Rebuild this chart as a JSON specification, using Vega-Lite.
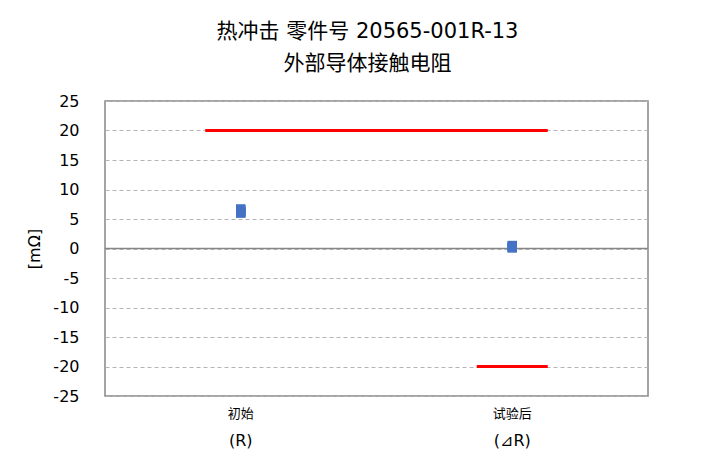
{
  "$schema": "https://vega.github.io/schema/vega-lite/v6.json",
  "width": 543,
  "height": 295,
  "autosize": {"type": "none"},
  "padding": {"left": 105, "top": 101, "right": 68, "bottom": 61},
  "background": "white",
  "config": {
    "view": {"stroke": "#868686", "strokeWidth": 1.5},
    "font": "DejaVu Sans, Noto Sans CJK SC"
  },
  "title": {
    "text": ["热冲击 零件号 20565-001R-13", "外部导体接触电阻"],
    "fontSize": 21,
    "font": "DejaVu Sans, Noto Sans CJK SC",
    "fontWeight": "normal",
    "color": "#000000",
    "lineHeight": 32,
    "offset": 19,
    "dx": -9
  },
  "datasets": {
    "pts": [
      {"cat": "初始", "v": 6.7},
      {"cat": "初始", "v": 6.5},
      {"cat": "初始", "v": 6.3},
      {"cat": "初始", "v": 6.1},
      {"cat": "初始", "v": 6.0},
      {"cat": "试验后", "v": 0.5},
      {"cat": "试验后", "v": 0.35},
      {"cat": "试验后", "v": 0.2},
      {"cat": "试验后", "v": 0.1}
    ],
    "limits": [
      {"series": "upper", "cat": "初始", "v": 20},
      {"series": "upper", "cat": "试验后", "v": 20},
      {"series": "lower", "cat": "试验后", "v": -20}
    ],
    "zero": [{"z": 0}]
  },
  "resolve": {"axis": {"x": "independent"}},
  "layer": [
    {
      "data": {"name": "zero"},
      "mark": {"type": "rule", "color": "#868686", "strokeWidth": 1.5},
      "encoding": {
        "y": {
          "field": "z",
          "type": "quantitative",
          "scale": {"domain": [-25, 25], "nice": false, "zero": false},
          "axis": {
            "title": "[mΩ]",
            "titleFontSize": 16,
            "titleFontWeight": "normal",
            "titleColor": "#000000",
            "titlePadding": 10,
            "values": [-25, -20, -15, -10, -5, 0, 5, 10, 15, 20, 25],
            "tickCount": 11,
            "labelExpr": "toString(datum.value)",
            "labelOverlap": false,
            "labelFontSize": 16,
            "labelColor": "#000000",
            "labelPadding": 26,
            "ticks": false,
            "tickSize": 0,
            "domain": false,
            "grid": true,
            "gridColor": "#B4B4B4",
            "gridDash": [4, 3],
            "gridWidth": 1
          }
        }
      }
    },
    {
      "data": {"name": "limits"},
      "transform": [{"filter": "datum.series == 'upper'"}],
      "mark": {"type": "line", "color": "#FF0000", "strokeWidth": 3},
      "encoding": {
        "x": {
          "field": "cat",
          "type": "nominal",
          "sort": ["初始", "试验后"],
          "scale": {"type": "band", "domain": ["初始", "试验后"], "paddingInner": 0, "paddingOuter": 0},
          "axis": {
            "orient": "bottom",
            "title": null,
            "ticks": false,
            "tickSize": 0,
            "domain": false,
            "grid": false,
            "labelAngle": 0,
            "labelFontSize": 13,
            "labelColor": "#000000",
            "labelPadding": 11,
            "labelBaseline": "top"
          }
        },
        "y": {"field": "v", "type": "quantitative"}
      }
    },
    {
      "data": {"name": "limits"},
      "mark": {"type": "tick", "color": "#FF0000", "size": 71, "thickness": 3, "orient": "horizontal", "opacity": 1},
      "encoding": {
        "x": {
          "field": "cat",
          "type": "nominal",
          "sort": ["初始", "试验后"],
          "axis": {
            "orient": "bottom",
            "title": null,
            "ticks": false,
            "tickSize": 0,
            "domain": false,
            "grid": false,
            "labelAngle": 0,
            "labelFontSize": 16,
            "labelColor": "#000000",
            "labelPadding": 36,
            "labelBaseline": "top",
            "labelExpr": "datum.value == '初始' ? '(R)' : '(⊿R)'"
          }
        },
        "y": {"field": "v", "type": "quantitative"}
      }
    },
    {
      "data": {"name": "pts"},
      "mark": {"type": "point", "shape": "square", "filled": true, "size": 90, "color": "#4472C4", "opacity": 1},
      "encoding": {
        "x": {"field": "cat", "type": "nominal", "sort": ["初始", "试验后"], "axis": null},
        "y": {"field": "v", "type": "quantitative"}
      }
    }
  ]
}
